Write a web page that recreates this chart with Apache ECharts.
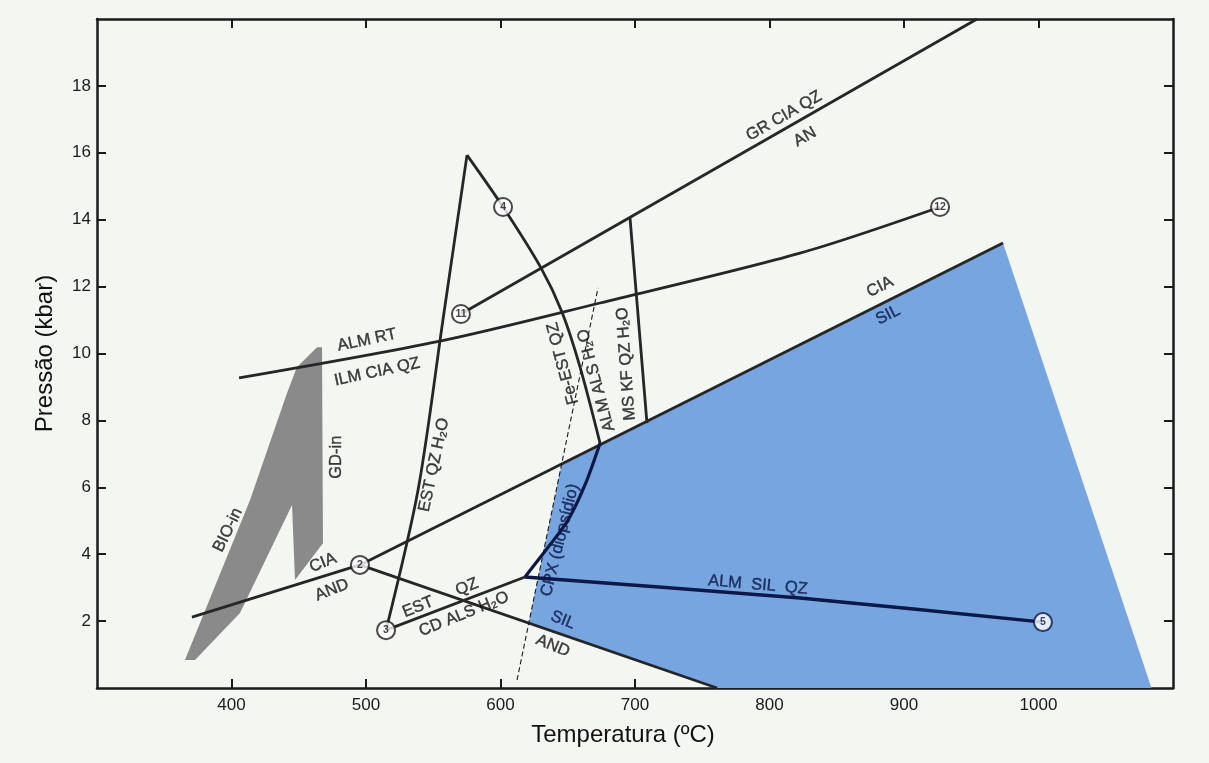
<!DOCTYPE html>
<html>
<head>
<meta charset="utf-8">
<script src="https://cdn.jsdelivr.net/npm/echarts@6/dist/echarts.min.js"></script>
<style>
  html, body { margin: 0; padding: 0; background: #f4f6f2; }
  #chart { width: 1209px; height: 763px; }
</style>
</head>
<body>
<div id="chart"></div>
<script>
// temperature (ºC), pressure (kbar)
const bioInBand = [[365.4, 0.84], [413.8, 5.62], [441.3, 8.82], [448.7, 9.6], [463.6, 10.19], [467.3, 10.19],
  [468.0, 4.33], [447.2, 3.23], [445.0, 5.47], [406.3, 2.24], [372.9, 0.84]]
const silField = [[621.0, 1.94], [645.4, 6.69], [973.6, 13.3], [1084.0, 0], [761.0, 0]]

const kyAndLine = [[370.6, 2.12], [495.5, 3.68]]
const kySilLine = [[495.5, 3.68], [973.6, 13.3]]
const andSilLine = [[495.5, 3.68], [761.0, 0]]
const almRtLine = [[405.6, 9.27], [555.0, 10.37], [674.0, 11.51], [822.7, 13.0], [926.8, 14.38]]
const grCiaLine = [[570.6, 11.18], [954.3, 20]]
const estQzLine = [[514.9, 1.73], [538.7, 5.92], [557.2, 11.0], [575.1, 15.93]]
const feEstLine = [[575.1, 15.93], [601.9, 14.38], [630.1, 12.56], [645.7, 11.24], [659.1, 9.6], [674.0, 7.32]]
const feEstLowLine = [[674.0, 7.32], [662.8, 6.07], [650.2, 5.02], [636.8, 4.28], [618.2, 3.32]]
const estCdLine = [[514.9, 1.73], [618.2, 3.32]]
const almSilLine = [[618.2, 3.32], [822.7, 2.69], [1003.3, 1.97]]
const msKfLine = [[696.3, 14.05], [708.9, 7.92]]
const cpxLine = [[612.3, 0.24], [672.5, 11.96]]

const invariantPoints = [[495.5, 3.68, '2'], [514.9, 1.73, '3'], [601.9, 14.38, '4'], [1003.3, 1.97, '5'],
  [570.6, 11.18, '11'], [926.8, 14.38, '12']]

// text, T, P, angle
const fieldLabels = [
  ['BIO-in', 397.4, 4.72, 64],
  ['GD-in', 478.4, 6.9, 90],
  ['ALM RT', 500.7, 10.4, 12],
  ['ILM CIA QZ', 508.2, 9.45, 12],
  ['CIA', 468.0, 3.74, 22],
  ['AND', 474.7, 2.93, 22],
  ['EST', 538.7, 2.42, 22],
  ['QZ', 575.1, 3.02, 22],
  ['CD ALS H₂O', 572.9, 2.21, 22],
  ['EST QZ H₂O', 550.6, 6.67, 78],
  ['Fe-EST QZ', 646.5, 9.7, 105],
  ['ALM ALS H₂O', 671.3, 9.2, 105],
  ['MS KF QZ H₂O', 693.5, 9.69, 94],
  ['GR CIA QZ', 810.8, 17.1, 30],
  ['AN', 826.4, 16.47, 30],
  ['CIA', 882.2, 11.99, 27],
  ['SIL', 888.1, 11.15, 27],
  ['ALM  SIL  QZ', 791.4, 3.08, -5],
  ['SIL', 646.5, 2.03, -22],
  ['AND', 639.0, 1.26, -22],
  ['CPX (diopsídio)', 644.2, 4.42, 76]
]
const navyLabels = ['SIL', 'ALM  SIL  QZ', 'CPX (diopsídio)']

const xTicks = [400, 500, 600, 700, 800, 900, 1000]
const yTicks = [2, 4, 6, 8, 10, 12, 14, 16, 18]

const GREY = '#262626'
const NAVY = '#0b1848'
const FONT = "'Liberation Sans', Arial, sans-serif"

const chart = echarts.init(document.getElementById('chart'))

const polygon = (points, color) => ({
  type: 'custom',
  coordinateSystem: 'cartesian2d',
  silent: true,
  z: 1,
  data: [points[0]],
  renderItem: (params, api) => ({
    type: 'polygon',
    shape: { points: points.map(p => api.coord(p)) },
    style: { fill: color }
  })
})

const line = (data, color, width, smooth, dashed) => ({
  type: 'line',
  data: data,
  symbol: 'none',
  silent: true,
  z: 3,
  smooth: smooth || false,
  lineStyle: { color: color, width: width, type: dashed ? [5, 3] : 'solid' }
})

const frameAxis = (ticks, extra) => Object.assign({
  type: 'value',
  axisLine: { show: true, onZero: false, lineStyle: { color: '#1a1a1a', width: 2.5 } },
  axisTick: { show: true, inside: true, length: 9, customValues: ticks, lineStyle: { color: '#1a1a1a', width: 2 } },
  splitLine: { show: false }
}, extra)

const option = {
  animation: false,
  backgroundColor: '#f4f6f2',
  grid: { left: 97, right: 36, top: 19, bottom: 75 },
  xAxis: [
    frameAxis(xTicks, {
      min: 300, max: 1100, interval: 100, position: 'bottom',
      axisLabel: {
        margin: 9, fontSize: 17, color: '#1a1a1a', fontFamily: FONT, customValues: xTicks,
        formatter: v => (xTicks.includes(v) ? String(v) : '')
      },
      name: 'Temperatura (ºC)', nameLocation: 'middle', nameGap: 35,
      nameTextStyle: { fontSize: 24, color: '#111', fontFamily: FONT, padding: [0, 24, 0, 0] }
    }),
    frameAxis(xTicks, { min: 300, max: 1100, interval: 100, position: 'top', axisLabel: { show: false } })
  ],
  yAxis: [
    frameAxis(yTicks, {
      min: 0, max: 20, interval: 2, position: 'left',
      axisLabel: {
        margin: 6, fontSize: 17, color: '#1a1a1a', fontFamily: FONT, customValues: yTicks,
        formatter: v => (yTicks.includes(v) ? String(v) : '')
      },
      name: 'Pressão (kbar)', nameLocation: 'middle', nameGap: 40,
      nameTextStyle: { fontSize: 24, color: '#111', fontFamily: FONT }
    }),
    frameAxis(yTicks, { min: 0, max: 20, interval: 2, position: 'right', axisLabel: { show: false } })
  ],
  series: [
    polygon(bioInBand, '#8a8a8a'),
    polygon(silField, '#77a5df'),
    line(kyAndLine, GREY, 2.8),
    line(kySilLine, GREY, 2.8),
    line(andSilLine, GREY, 2.8),
    line(almRtLine, GREY, 2.8, 0.3),
    line(grCiaLine, GREY, 2.8),
    line(estQzLine, GREY, 2.8, 0.3),
    line(feEstLine, GREY, 2.8, 0.3),
    line(feEstLowLine, NAVY, 3.2, 0.3),
    line(estCdLine, GREY, 2.8),
    line(almSilLine, NAVY, 3.4, 0.2),
    line(msKfLine, GREY, 2.8),
    line(cpxLine, '#1a1a1a', 1.1, false, true),
    {
      type: 'scatter',
      silent: true,
      z: 5,
      symbolSize: 18,
      data: invariantPoints.map(p => ({
        value: [p[0], p[1]],
        itemStyle: { color: '#fff', borderColor: p[2] === '5' ? NAVY : '#1a1a1a', borderWidth: 2 },
        label: { color: p[2] === '5' ? NAVY : '#111' }
      })),
      label: {
        show: true, position: 'inside', fontSize: 10.5, fontWeight: 'bold', fontFamily: FONT,
        formatter: p => invariantPoints[p.dataIndex][2]
      }
    },
    {
      type: 'scatter',
      silent: true,
      z: 6,
      symbolSize: 1,
      itemStyle: { color: 'rgba(0,0,0,0)' },
      data: fieldLabels.map(l => {
        const c = navyLabels.includes(l[0]) ? NAVY : '#111'
        return {
          value: [l[1], l[2]],
          label: { rotate: l[3], color: c, textBorderColor: c, textBorderWidth: 0.4 }
        }
      }),
      label: {
        show: true, position: 'inside', fontSize: 16.5, fontFamily: FONT,
        formatter: p => fieldLabels[p.dataIndex][0]
      }
    }
  ]
}

chart.setOption(option)
</script>
</body>
</html>
